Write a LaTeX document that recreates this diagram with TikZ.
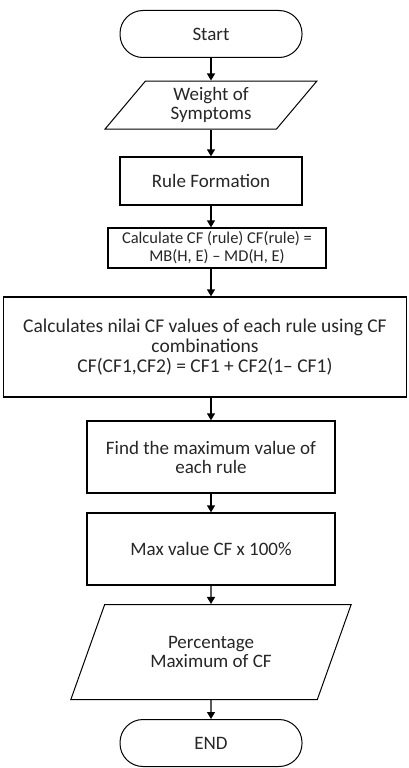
\documentclass[tikz,border=0pt]{standalone}
\usepackage{fontspec}
\setmainfont{Carlito}
\usepackage{tikz}
\usetikzlibrary{arrows.meta,shapes.geometric}

\begin{document}
\begin{tikzpicture}[x=1pt,y=-1pt,
  every node/.style={font=\fontsize{19}{19}\selectfont, align=center, text=black!85, inner sep=1pt},
  terminal/.style={draw, line width=1pt, rounded corners=23pt, minimum width=182pt, minimum height=47pt},
  process/.style={draw, line width=1.3pt, minimum height=#1},
  datain/.style={draw, line width=1pt, trapezium, trapezium stretches=true, trapezium left angle=#1, trapezium right angle=180-#1},
  flow/.style={-{Triangle[length=7pt,width=8pt]}, line width=1.3pt}]
\useasboundingbox (0,0) rectangle (409,768);

\node[terminal] (start) at (211,34) {Start};
\node[datain=55.5, minimum width=212pt, minimum height=48pt] (weight) at (211,105) {Weight of\\Symptoms};
\node[process=48pt, minimum width=182pt] (rule) at (211,181) {Rule Formation};
\node[process=40pt, minimum width=218pt, font=\fontsize{16.5}{18}\selectfont] (calc) at (217,248) {Calculate CF (rule) CF(rule) =\\MB(H, E) -- MD(H, E)};
\node[process=100pt, minimum width=403pt, font=\fontsize{19.5}{20}\selectfont] (comb) at (205,347) {Calculates nilai CF values of each rule using CF\\combinations\\CF(CF1,CF2) = CF1 + CF2(1-- CF1)};
\node[process=72pt, minimum width=248pt] (find) at (211,457) {Find the maximum value of\\each rule};
\node[process=72pt, minimum width=248pt] (maxv) at (211,549) {Max value CF x 100\%};
\node[datain=59.5, minimum width=281pt, minimum height=95pt] (perc) at (211,652) {Percentage\\Maximum of CF};
\node[terminal] (end) at (211,743) {END};

% arrows between the steps
\draw[flow] (start.south) -- (start.south |- weight.north);
\draw[flow] (weight.south) -- (weight.south |- rule.north);
\draw[flow] (rule.south) -- (rule.south |- calc.north);
\draw[flow] (rule.south |- calc.south) -- (rule.south |- comb.north);
\draw[flow] (rule.south |- comb.south) -- (find.north);
\draw[flow] (find.south) -- (maxv.north);
\draw[flow] (maxv.south) -- (perc.north);
\draw[flow] (perc.south) -- (end.north);
\end{tikzpicture}
\end{document}
